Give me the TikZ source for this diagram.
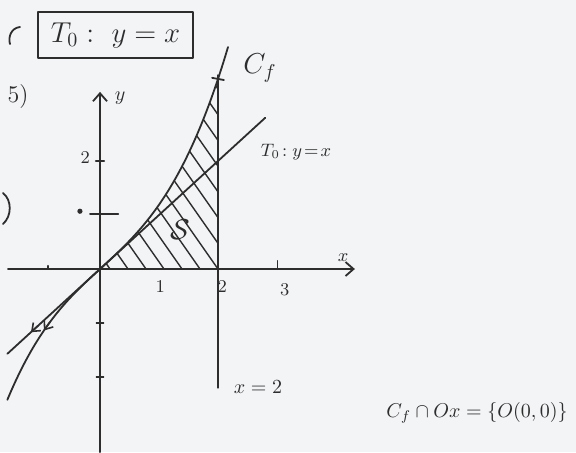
\documentclass[tikz,border=0pt]{standalone}
\usetikzlibrary{arrows.meta}
\definecolor{ink}{RGB}{45,45,45}
\definecolor{paper}{RGB}{243,244,246}
\begin{document}
\begin{tikzpicture}[x=0.5pt,y=-0.5pt,line cap=round,line join=round,
  pen/.style={draw=ink,line width=0.9pt},
  hatch/.style={draw=ink,line width=0.7pt},
  lbl/.style={text=ink,inner sep=0pt},
  axisarrow/.style={-{Straight Barb[length=4pt,width=7pt]}},
  midtip/.style={draw=ink,line width=0.8pt,-{Straight Barb[length=3.5pt,width=5.5pt]}}]
\fill[paper] (0,0) rectangle (576,452);
\useasboundingbox (0,0) rectangle (576,452);
% fragments at the left edge
\draw[pen] (20,27) .. controls (11,28) and (8,37) .. (10,44);
\draw[pen] (3,193) .. controls (12,200) and (12,216) .. (3,224);
% texts in pixel coordinates
\node[lbl,draw=ink,line width=0.9pt,minimum width=77.5pt,minimum height=23pt] (box) at (115.5,35) {\Large $T_0 :\ y = x$};
\node[lbl] (five) at (18,97) {\large 5)};
\node[lbl] (cf) at (260,68) {\Large $C_f$};
\node[lbl] (tlab) at (296,152) {\small $T_0\!:y\!=\!x$};
\node[lbl] (xeq) at (258,387) {$x=2$};
\node[lbl] (inter) at (477,413) {$C_f\cap Ox=\{O(0,0)\}$};
\begin{scope}[shift={(100,269)}]
\begin{scope}[x=29.5pt,y=27pt]
  % hatching
  \begin{scope}
    \clip (0,0) -- plot[domain=0:2,samples=40] (\x,{\x+0.19*\x*\x*\x}) -- (2,0) -- cycle;
    \foreach \a in {0.17,0.475,...,4.4}
      \draw[hatch] (\a,0) -- ++(-2.6,4.06);
  \end{scope}
  % axes
  \draw[pen,axisarrow] (-1.56,0) -- (4.32,0);
  \draw[pen,axisarrow] (0,-3.39) -- (0,3.28);
  % ticks
  \draw[pen] (-0.07,2) -- (0.07,2);
  \draw[pen] (-0.17,1.02) -- (0.31,1.02);
  \fill[ink] (-0.34,1.07) circle (1.3pt);
  \draw[pen] (-0.06,-1) -- (0.06,-1);
  \draw[pen] (-0.06,-2) -- (0.06,-2);
  \draw[pen] (3.01,0) -- (3.01,0.15);
  \draw[pen] (-0.88,0) -- (-0.88,0.06);
  % vertical line x=2
  \draw[pen] (2,3.59) -- (2,-2.2);
  \draw[pen] (1.9,3.54) -- (2.1,3.5);
  % curve and tangent
  \draw[pen] plot[domain=-1.57:0,samples=50] (\x,{\x+0.22*\x*\x*\x})
             -- plot[domain=0:2.17,samples=60] (\x,{\x+0.19*\x*\x*\x});
  \draw[pen] (-1.57,-1.57) -- (2.8,2.8);
  % arrow marks on the left branches
  \coordinate (ta) at (-1.05,-1.05);
  \coordinate (tb) at (-1.17,-1.17);
  \draw[midtip] (ta) -- (tb);
  \coordinate (ca) at (-0.85,{-0.85-0.22*0.85*0.85*0.85});
  \coordinate (cb) at (-0.95,{-0.95-0.22*0.95*0.95*0.95});
  \draw[midtip] (ca) -- (cb);
  % labels
  \node[lbl] (l1) at (1.02,-0.33) {\small 1};
  \node[lbl] (l2) at (2.07,-0.33) {\small 2};
  \node[lbl] (l3) at (3.13,-0.39) {\small 3};
  \node[lbl] (ly2) at (-0.25,2.07) {\small 2};
  \node[lbl] (lx) at (4.12,0.22) {\small $x$};
  \node[lbl] (ly) at (0.34,3.17) {$y$};
  \node[lbl] (ls) at (1.36,0.72) {\Large $\mathcal{S}$};
\end{scope}
\end{scope}
\end{tikzpicture}
\end{document}
